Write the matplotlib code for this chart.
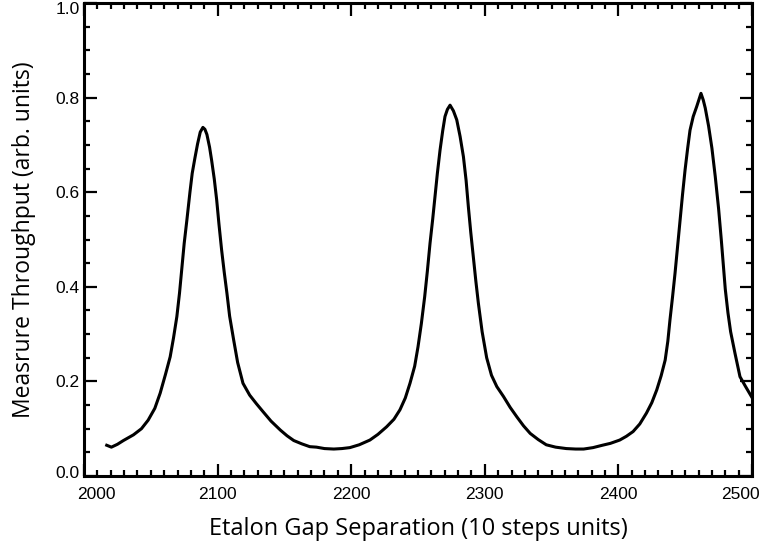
import matplotlib
matplotlib.use("Agg")
import matplotlib.pyplot as plt
import matplotlib.transforms as mtransforms
from matplotlib.ticker import MultipleLocator
import numpy as np

# etalon scan
gapSteps = [2017, 2020.5, 2025, 2029.5, 2037, 2043, 2048, 2053, 2057, 2061,
            2064.5, 2067, 2069.5, 2071.5, 2073.3, 2075, 2077, 2079.3, 2081, 2083,
            2085, 2087, 2089, 2090.5, 2092, 2094, 2095.5, 2097.5, 2099.3, 2101,
            2103, 2105, 2107, 2109, 2112, 2115, 2119, 2124, 2129, 2134,
            2140, 2147, 2152, 2157, 2163, 2169, 2174, 2180, 2187, 2193,
            2199, 2206, 2214, 2220, 2226.5, 2232, 2236.5, 2240.5, 2244, 2247.5,
            2250, 2252.5, 2255, 2257, 2259, 2261, 2262.7, 2264.5, 2266.5, 2268.5,
            2270.2, 2272, 2274, 2276.5, 2279, 2281.5, 2284, 2286, 2287.7, 2289.5,
            2291.4, 2293.3, 2295.2, 2298, 2301.4, 2305, 2309, 2314, 2319, 2324,
            2329, 2334, 2340, 2346, 2353, 2361, 2368, 2374, 2381, 2388,
            2394, 2401, 2406, 2411, 2416, 2421, 2425, 2428.7, 2432, 2435,
            2437, 2438.6, 2440.5, 2442.4, 2444.3, 2446.1, 2448, 2449.9, 2451.8, 2453.6,
            2456, 2458.6, 2461.8, 2463.5, 2465, 2467.5, 2470, 2472.5, 2475, 2477,
            2478.5, 2480, 2482, 2484, 2487.3, 2491, 2495, 2500]
throughput = [0.065, 0.061, 0.067, 0.075, 0.087, 0.100, 0.118, 0.143, 0.175, 0.215,
              0.252, 0.292, 0.337, 0.387, 0.440, 0.492, 0.541, 0.600, 0.640, 0.672,
              0.702, 0.727, 0.737, 0.733, 0.722, 0.695, 0.668, 0.628, 0.584, 0.533,
              0.478, 0.430, 0.386, 0.338, 0.288, 0.240, 0.196, 0.171, 0.153, 0.136,
              0.116, 0.097, 0.085, 0.075, 0.068, 0.062, 0.061, 0.058, 0.057, 0.058,
              0.060, 0.066, 0.076, 0.088, 0.104, 0.120, 0.140, 0.165, 0.196, 0.232,
              0.273, 0.322, 0.379, 0.433, 0.492, 0.543, 0.590, 0.640, 0.689, 0.730,
              0.760, 0.775, 0.784, 0.772, 0.753, 0.718, 0.675, 0.625, 0.569, 0.515,
              0.464, 0.412, 0.365, 0.305, 0.250, 0.213, 0.189, 0.168, 0.145, 0.125,
              0.106, 0.090, 0.077, 0.066, 0.061, 0.058, 0.057, 0.057, 0.060, 0.065,
              0.069, 0.076, 0.084, 0.094, 0.110, 0.133, 0.155, 0.182, 0.212, 0.245,
              0.285, 0.330, 0.378, 0.429, 0.486, 0.541, 0.595, 0.647, 0.692, 0.731,
              0.760, 0.781, 0.809, 0.795, 0.778, 0.740, 0.693, 0.633, 0.565, 0.500,
              0.447, 0.395, 0.345, 0.305, 0.259, 0.210, 0.190, 0.166]

xTicks = [2000, 2100, 2200, 2300, 2400, 2500]
yTicks = [0.0, 0.2, 0.4, 0.6, 0.8, 1.0]

fig = plt.figure(figsize=(7.6, 5.46), dpi=100)
ax = fig.add_axes([84/760, 1 - 476/546, 668/760, 473/546])

ax.plot(gapSteps, throughput, color="black", linewidth=2.2)

ax.set_xlim(2000, 2500)
ax.set_ylim(0, 1.0)
ax.set_xticks(xTicks)
ax.set_yticks(yTicks)
ax.set_yticklabels(["%.1f" % v for v in yTicks])
ax.xaxis.set_minor_locator(MultipleLocator(10))
ax.yaxis.set_minor_locator(MultipleLocator(0.05))

for s in ax.spines.values():
    s.set_linewidth(2.2)

ax.tick_params(which="both", direction="in", top=True, right=True, width=1.6, color="black")
ax.tick_params(which="major", length=9)
ax.tick_params(which="minor", length=4.5)
ax.tick_params(axis="x", which="major", pad=8)
ax.tick_params(axis="y", which="major", pad=3)

for lab in ax.get_xticklabels() + ax.get_yticklabels():
    lab.set_family("Liberation Sans")
    lab.set_fontsize(12.5)

ax.set_xlabel("Etalon Gap Separation (10 steps units)", family="Open Sans", fontsize=17, labelpad=11)
ax.set_ylabel("Measrure Throughput (arb. units)", family="Open Sans", fontsize=16.5, labelpad=14)

# end labels sit a bit inside the frame, as in the reference
fig.canvas.draw()
xl = ax.get_xticklabels()
yl = ax.get_yticklabels()
xl[0].set_transform(xl[0].get_transform() + mtransforms.ScaledTranslation(12/100, 0, fig.dpi_scale_trans))
xl[-1].set_transform(xl[-1].get_transform() + mtransforms.ScaledTranslation(-12/100, 0, fig.dpi_scale_trans))
yl[0].set_transform(yl[0].get_transform() + mtransforms.ScaledTranslation(0, 4/100, fig.dpi_scale_trans))
yl[-1].set_transform(yl[-1].get_transform() + mtransforms.ScaledTranslation(0, -5/100, fig.dpi_scale_trans))

fig.savefig("out.png", dpi=100)
